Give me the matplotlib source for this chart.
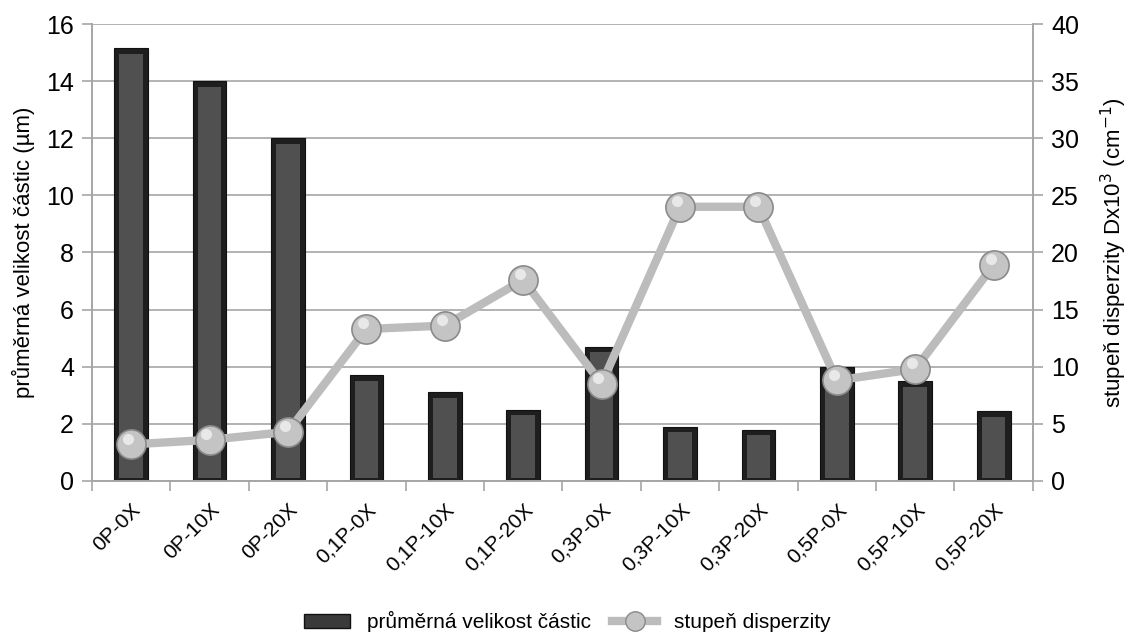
import matplotlib
matplotlib.use("Agg")
import matplotlib.pyplot as plt
import numpy as np
from matplotlib.lines import Line2D
from matplotlib.patches import Patch

plt.rcParams['font.family'] = ['Liberation Sans', 'DejaVu Sans']

categories = ["0P-0X", "0P-10X", "0P-20X", "0,1P-0X", "0,1P-10X", "0,1P-20X",
              "0,3P-0X", "0,3P-10X", "0,3P-20X", "0,5P-0X", "0,5P-10X", "0,5P-20X"]
particle_size = [15.15, 14.0, 12.0, 3.7, 3.1, 2.5, 4.7, 1.9, 1.8, 4.0, 3.5, 2.45]
dispersity = [3.2, 3.6, 4.3, 13.3, 13.6, 17.6, 8.5, 24.0, 24.0, 8.8, 9.8, 18.9]

left_ticks = [0, 2, 4, 6, 8, 10, 12, 14, 16]
right_ticks = [0, 5, 10, 15, 20, 25, 30, 35, 40]

fig = plt.figure(figsize=(11.35, 6.32), dpi=100)
ax = fig.add_axes([0.081, 0.239, 0.829, 0.723])
ax2 = ax.twinx()

x = np.arange(len(categories))
grid_c = '#a6a6a6'

ax.set_axisbelow(True)
for t in left_ticks:
    ax.axhline(t, color=grid_c, lw=1.2, zorder=0)

# bevelled bars: outer dark, inner lighter
ax.bar(x, particle_size, width=0.43, color='#1e1e1e', edgecolor='#111111', lw=0.8, zorder=2)
inner = [v - 0.3 for v in particle_size]
ax.bar(x, inner, width=0.30, bottom=0.1, color='#505050', edgecolor='none', zorder=3)

ax.set_xlim(-0.5, len(categories) - 0.5)
ax.set_ylim(0, 16)
ax.set_yticks(left_ticks)
ax.set_xticks(x)
ax.set_xticklabels(categories, rotation=45, ha='right', rotation_mode='anchor', fontsize=15)
ax.tick_params(axis='x', length=0, pad=14)
ax.set_xticks(np.arange(-0.5, len(categories), 1.0), minor=True)
ax.tick_params(axis='x', which='minor', length=7, color=grid_c, width=1.2)
ax.tick_params(axis='y', length=7, color=grid_c, width=1.2, labelsize=18, pad=6)
ax.set_ylabel("průměrná velikost částic (µm)", fontsize=16, labelpad=8)

for s in ['top']:
    ax.spines[s].set_visible(False)
    ax2.spines[s].set_visible(False)
for s in ['left', 'bottom', 'right']:
    ax.spines[s].set_color(grid_c)
    ax.spines[s].set_linewidth(1.2)
    ax2.spines[s].set_color(grid_c)
    ax2.spines[s].set_linewidth(1.2)

ax2.plot(x, dispersity, color='#bcbcbc', lw=6, zorder=4, solid_capstyle='round',
         marker='o', markersize=21, markerfacecolor='#c4c4c4',
         markeredgecolor='#8a8a8a', markeredgewidth=1.2)
ax2.plot(x - 0.04, [d + 0.5 for d in dispersity], linestyle='none', marker='o',
         markersize=8, markerfacecolor='#e8e8e8', markeredgecolor='none', zorder=5)
ax2.set_ylim(0, 40)
ax2.set_yticks(right_ticks)
ax2.tick_params(axis='y', length=7, color=grid_c, width=1.2, labelsize=18, pad=6)
ax2.set_ylabel("stupeň disperzity Dx10$^{3}$ (cm$^{-1}$)", fontsize=16, labelpad=14)

handles = [Patch(facecolor='#3a3a3a', edgecolor='#111111'),
           Line2D([0], [0], color='#bcbcbc', lw=6, marker='o', markersize=14,
                  markerfacecolor='#c4c4c4', markeredgecolor='#8a8a8a')]
fig.legend(handles, ["průměrná velikost částic", "stupeň disperzity"],
           loc='lower center', bbox_to_anchor=(0.5, -0.03), ncol=2, frameon=False,
           fontsize=15, handlelength=2.2, columnspacing=1.0)

fig.savefig("out.png", dpi=100)
